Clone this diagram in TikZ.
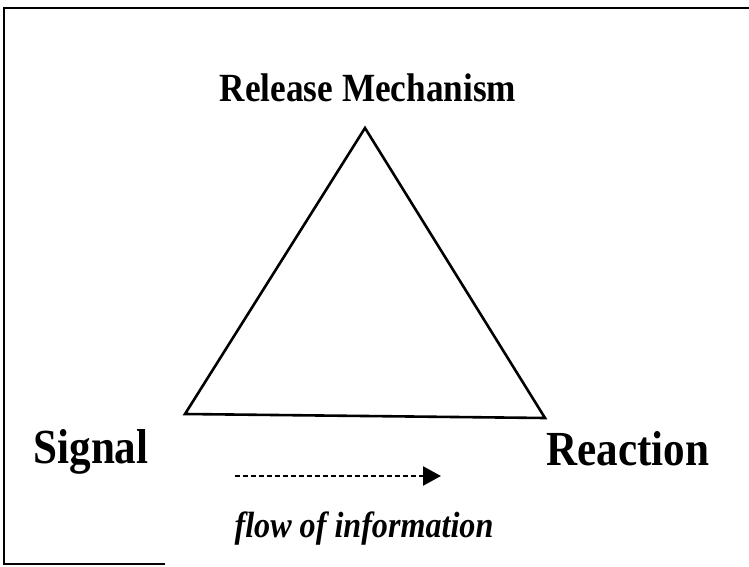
\documentclass[tikz,border=0pt]{standalone}
\usepackage{fontspec}
\setmainfont{Liberation Serif}[FakeStretch=0.88]
\usetikzlibrary{arrows.meta}
\begin{document}
\begin{tikzpicture}[x=1pt,y=-1pt,
  lbl/.style={font=\bfseries, inner sep=0pt, anchor=base},
  edge/.style={line width=2.6pt, line join=miter},
  flowarrow/.style={line width=2.3pt, dash pattern=on 5pt off 3pt, -{Triangle[length=18pt,width=19pt]}},
  frame/.style={line width=1.5pt}]
\useasboundingbox (0,0) rectangle (749,567);
% frame
\draw[frame] (165,564) -- (4,564) -- (4,8) -- (749,8);
% triangle
\coordinate (top) at (365,128);
\coordinate (bl) at (185,414);
\coordinate (br) at (545,418);
\draw[edge] (top) -- (bl) -- (br) -- cycle;
% labels
\node[lbl, font=\bfseries\fontsize{40}{44}\selectfont] (rm) at (368,102) {Release Mechanism};
\node[lbl, font=\bfseries\fontsize{49}{52}\selectfont] (sig) at (91,463) {Signal};
\node[lbl, font=\bfseries\fontsize{49}{52}\selectfont] (rea) at (628,465) {Reaction};
\node[lbl, font=\bfseries\itshape\fontsize{36.5}{40}\selectfont] (flow) at (364,537) {flow of information};
% arrow
\coordinate (a0) at (235,476);
\coordinate (a1) at (441,476);
\draw[flowarrow] (a0) -- (a1);
\end{tikzpicture}
\end{document}
